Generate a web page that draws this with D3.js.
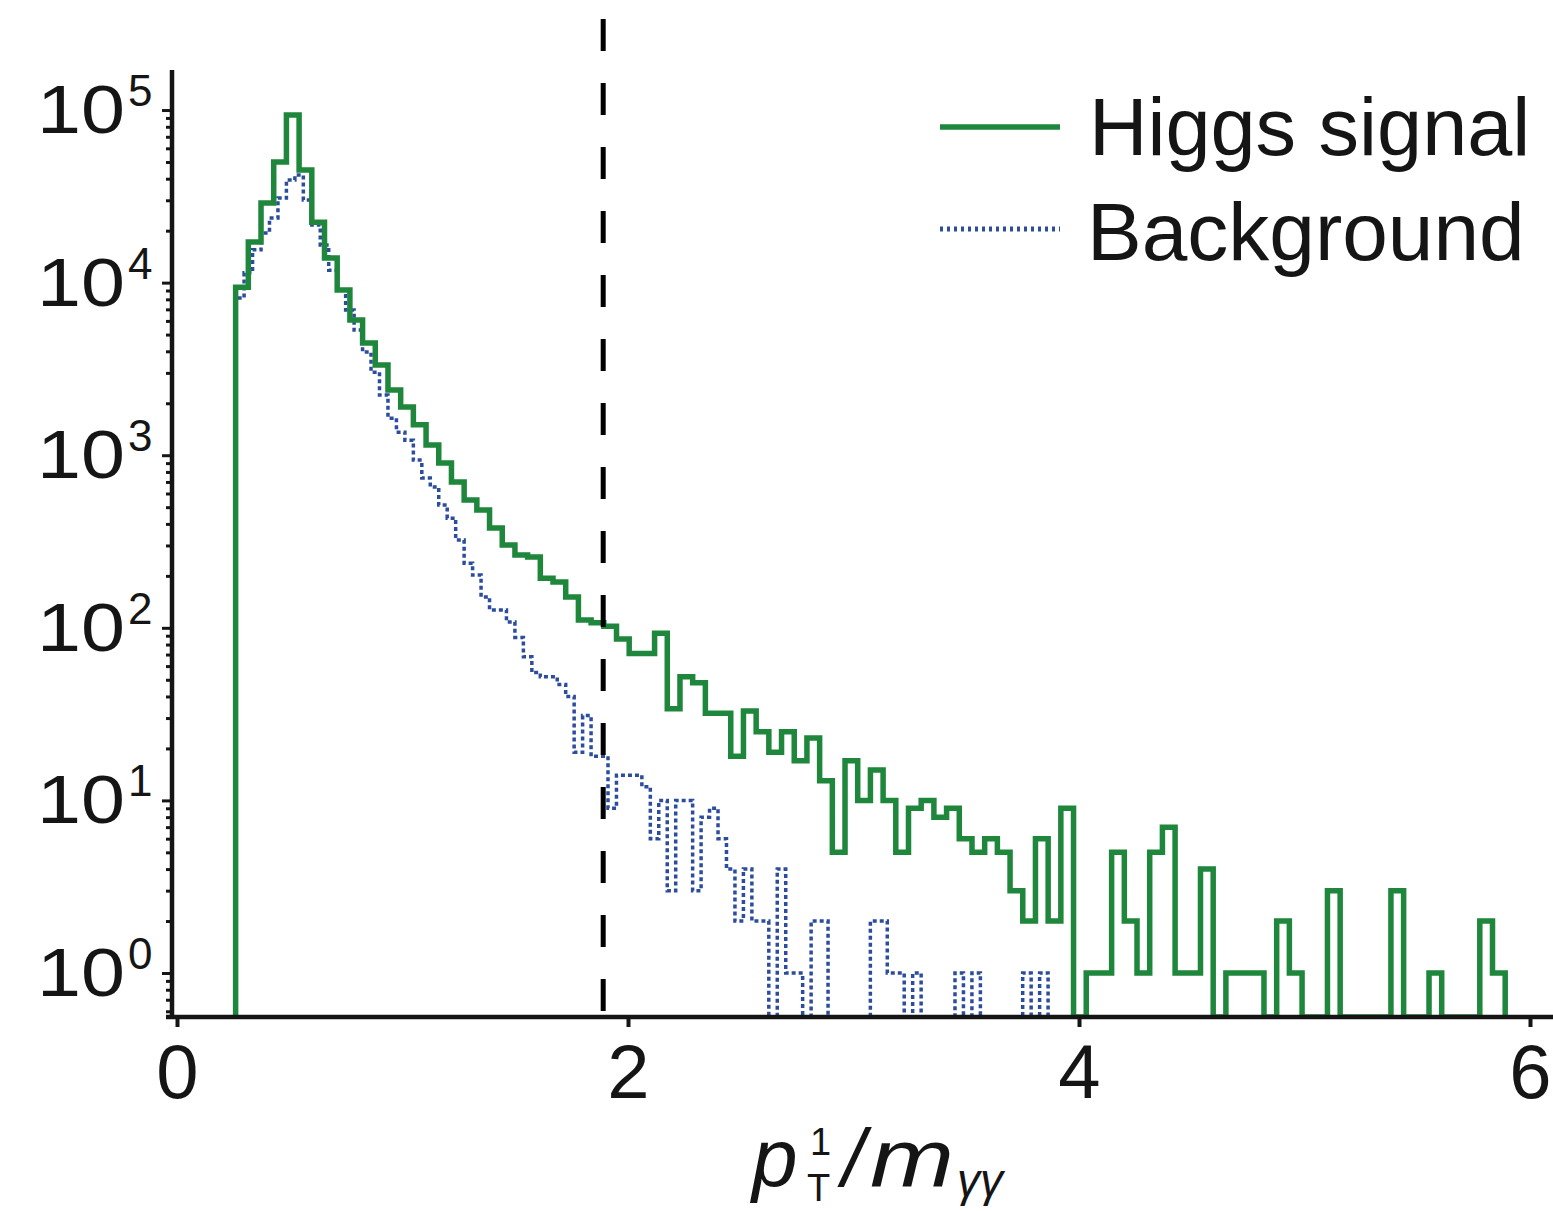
<!DOCTYPE html>
<html><head><meta charset="utf-8">
<script src="https://cdn.jsdelivr.net/npm/d3@7"></script>
<style>
body{margin:0;background:#fff}
svg{display:block}
text{font-family:"Liberation Sans",Arial,Helvetica,sans-serif;fill:#151515}
</style>
</head><body>
<svg id="chart" width="1553" height="1211"></svg>
<script>
// ---------------- data ----------------
const xTicks = [0, 2, 4, 6];
const yDecades = [0, 1, 2, 3, 4, 5];
const binStart = 0.26;
const signalBinWidth = 0.0563;
const backgroundBinWidth = 0.03753;
const cutValue = 1.89;
const seriesNames = ["Higgs signal", "Background"];

const signalCounts = [
  9400, 17200, 28900, 50000, 93500, 44900, 22400, 13900, 9060, 6070,
  4470, 3330, 2390, 1900, 1500, 1146, 901, 700, 550, 481,
  379, 302, 264, 257, 194, 184, 151, 111, 107, 102,
  86, 71, 71, 93, 34, 52, 48, 32, 32, 18,
  33, 25, 19, 25, 17, 23, 13, 5, 17, 10,
  15, 10, 5, 9, 10, 8, 9, 6, 5, 6,
  5, 3, 2, 6, 2, 9, 0, 1, 1, 5,
  2, 1, 5, 7, 1, 1, 4, 0, 1, 1,
  1, 0, 2, 1, 0, 0, 3, 0, 0, 0,
  0, 3, 0, 0, 1, 0, 0, 0, 2, 1
];

const backgroundCounts = [
  8140, 11400, 15500, 19400, 23700, 30900, 39300, 42000, 30100, 21600,
  16500, 11800, 9060, 6940, 5310, 3960, 3030, 2230, 1640, 1360,
  1220, 937, 738, 654, 514, 432, 323, 237, 202, 151,
  127, 127, 108, 88, 68, 55, 52, 52, 47, 40,
  19, 31, 18, 18, 9, 14, 14, 14, 12, 6,
  10, 3, 10, 10, 3, 8, 9, 6, 4, 2,
  4, 2, 2, 0, 4, 1, 1, 0, 2, 2,
  0, 0, 0, 0, 0, 2, 2, 1, 1, 0,
  1, 0, 0, 0, 0, 1, 0, 1, 0, 0,
  0, 0, 0, 1, 0, 1, 0
];

// ---------------- layout ----------------
const W = 1553, H = 1211;
const plotLeft = 172, plotBottom = 1017, plotTop = 70;
const green = "#1f873c", blue = "#2c4c9c", ink = "#151515";

const svg = d3.select("#chart");
const x = d3.scaleLinear().domain([0, 6]).range([177, 1530]);
const y = d3.scaleLog().domain([Math.pow(10, -0.255), Math.pow(10, 5.232)]).range([plotBottom, plotTop]);
const yMin = y.domain()[0];

svg.append("defs").append("clipPath").attr("id", "plotClip")
  .append("rect").attr("x", plotLeft).attr("y", plotTop - 60).attr("width", W - plotLeft).attr("height", plotBottom - plotTop + 60);

function stepPoints(counts, width) {
  const pts = [[binStart, yMin]];
  counts.forEach((c, i) => {
    const v = c > 0 ? c : yMin;
    pts.push([binStart + i * width, v]);
    pts.push([binStart + (i + 1) * width, v]);
  });
  pts.push([binStart + counts.length * width, yMin]);
  return pts;
}
const line = d3.line().x(d => x(d[0])).y(d => y(d[1]));

const plot = svg.append("g").attr("clip-path", "url(#plotClip)");

plot.append("path")
  .attr("d", line(stepPoints(backgroundCounts, backgroundBinWidth)))
  .attr("fill", "none").attr("stroke", blue).attr("stroke-width", 3.5)
  .attr("stroke-dasharray", "4,3");

plot.append("path")
  .attr("d", line(stepPoints(signalCounts, signalBinWidth)))
  .attr("fill", "none").attr("stroke", green).attr("stroke-width", 5.5)
  .attr("stroke-linejoin", "miter");

// cut line
svg.append("line")
  .attr("x1", x(cutValue)).attr("x2", x(cutValue))
  .attr("y1", 19).attr("y2", plotBottom)
  .attr("stroke", "#000").attr("stroke-width", 5)
  .attr("stroke-dasharray", "32,32");

// ---------------- axes ----------------
const majorVals = yDecades.map(d => Math.pow(10, d));
const minorVals = [];
for (let d = -1; d <= 5; d++) for (let k = 2; k <= 9; k++) {
  const v = k * Math.pow(10, d);
  if (v >= yMin && v <= y.domain()[1]) minorVals.push(v);
}

const yMinorAxis = svg.append("g").attr("transform", `translate(${plotLeft},0)`)
  .call(d3.axisLeft(y).tickValues(minorVals).tickSize(6).tickFormat(""));
const yMajorAxis = svg.append("g").attr("transform", `translate(${plotLeft},0)`)
  .call(d3.axisLeft(y).tickValues(majorVals).tickSize(10).tickFormat(""));
[yMinorAxis, yMajorAxis].forEach(g => {
  g.select(".domain").remove();
  g.selectAll(".tick line").attr("stroke", ink).attr("stroke-width", 3);
});

// y labels 10^n
const yLab = svg.append("g");
yDecades.forEach(d => {
  const ty = y(Math.pow(10, d));
  yLab.append("text")
    .attr("x", 37).attr("y", ty + 23)
    .attr("font-size", 68)
    .attr("textLength", 88).attr("lengthAdjust", "spacingAndGlyphs")
    .text("10");
  yLab.append("text")
    .attr("x", 128).attr("y", ty - 4)
    .attr("font-size", 44)
    .text(String(d));
});

const xAxis = svg.append("g").attr("transform", `translate(0,${plotBottom})`)
  .call(d3.axisBottom(x).tickValues(xTicks).tickSize(10).tickFormat(d3.format("d")));
xAxis.select(".domain").remove();
xAxis.selectAll(".tick line").attr("stroke", ink).attr("stroke-width", 4);
xAxis.selectAll(".tick text")
  .attr("y", 81).attr("dy", null)
  .attr("font-size", 76).attr("fill", ink)
  .attr("font-family", "'Liberation Sans',Arial,sans-serif");

// axis lines
svg.append("line").attr("x1", plotLeft).attr("x2", plotLeft).attr("y1", plotTop).attr("y2", plotBottom + 2)
  .attr("stroke", ink).attr("stroke-width", 4.5);
svg.append("line").attr("x1", plotLeft - 6).attr("x2", W).attr("y1", plotBottom).attr("y2", plotBottom)
  .attr("stroke", ink).attr("stroke-width", 4.5);

// x title  p_T^1 / m_γγ  (one text element, tspans positioned)
const title = svg.append("text").attr("y", 1186).attr("font-size", 82);
title.append("tspan").attr("x", 752).attr("font-style", "italic").text("p");
title.append("tspan").attr("x", 810).attr("y", 1155).attr("font-size", 38).text("1");
title.append("tspan").attr("x", 807).attr("y", 1201).attr("font-size", 38).text("T");
title.append("tspan").attr("x", 842).attr("y", 1186).attr("font-style", "italic").text("/");
title.append("tspan").attr("x", 870).attr("y", 1186).attr("font-style", "italic")
  .attr("textLength", 84).attr("lengthAdjust", "spacingAndGlyphs").text("m");
title.append("tspan").attr("x", 957).attr("y", 1196).attr("font-style", "italic").attr("font-size", 46).text("γγ");

// legend
const leg = svg.append("g");
leg.append("line").attr("x1", 940).attr("x2", 1060).attr("y1", 127).attr("y2", 127)
  .attr("stroke", green).attr("stroke-width", 5.5);
leg.append("line").attr("x1", 940).attr("x2", 1060).attr("y1", 229).attr("y2", 229)
  .attr("stroke", blue).attr("stroke-width", 5).attr("stroke-dasharray", "3,4");
leg.append("text").attr("x", 1089).attr("y", 155).attr("font-size", 81).text(seriesNames[0]);
leg.append("text").attr("x", 1087).attr("y", 260).attr("font-size", 82).text(seriesNames[1]);
</script>
</body></html>
